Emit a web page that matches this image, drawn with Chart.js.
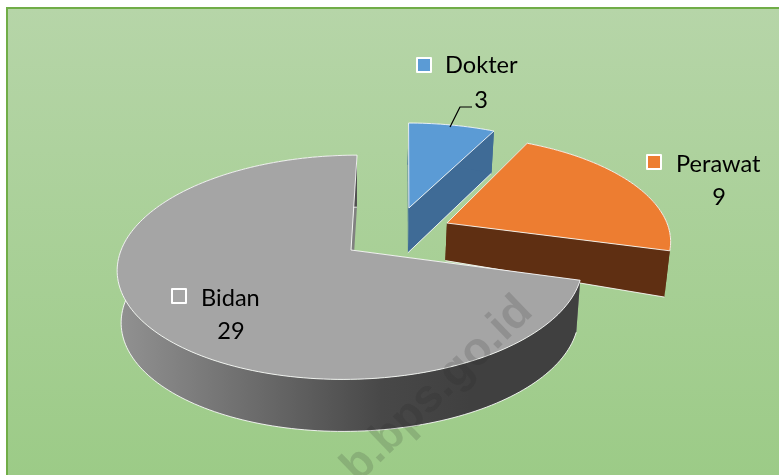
<!DOCTYPE html>
<html>
<head>
<meta charset="utf-8">
<style>
    body { margin: 0; background: #fff; }
    canvas { display: block; }
</style>
<script src="https://cdn.jsdelivr.net/npm/chart.js@4"></script>
</head>
<body>
<canvas id="chart" width="779" height="475"></canvas>
<script>
const categories = ['Dokter', 'Perawat', 'Bidan']
const values = [3, 9, 29]
const colors = ['#5b9bd5', '#ed7d31', '#a5a5a5']
const watermark = 'b.bps.go.id'

// perspective of the tilted disc, in pixels
const view = { cx: 351, cy: 250, a: 231, b: 110, p: 0.155, skew: 7, shrink: 0.983 }
// how far every slice is pulled out (disc units), its size and a small turn in radians
const shifts = [
    { u: 0.254, v: -0.406, r: 1, turn: 0.007 },
    { u: 0.424, v: -0.255, r: 0.99, turn: 0 },
    { u: 0, v: 0, r: 0.995, turn: 0 }
]
const depths = [{ d: 46, k: 3 }, { d: 46, k: 33 }, { d: 52, k: 0 }]
const labelSpots = [
    { key: [417, 58], text: [445, 73], value: [481, 108] },
    { key: [647, 155], text: [676, 172], value: [719, 205] },
    { key: [172, 289], text: [201, 306], value: [231, 339] }
]

function project(u, v) {
    const w = 1 - view.p * v
    return { x: view.cx + (view.a * u - view.skew * v) / w, y: view.cy + view.b * v / w }
}

function rimPoints(arc, shift) {
    const pts = []
    const steps = Math.ceil((arc.endAngle - arc.startAngle) * 40)
    for (let i = 0; i <= steps; i++) {
        const t = arc.startAngle + shift.turn + (arc.endAngle - arc.startAngle) * i / steps
        pts.push({ u: shift.u + shift.r * Math.cos(t), v: shift.v + shift.r * Math.sin(t) })
    }
    return pts
}

function topOf(p) {
    return project(p.u, p.v)
}

function bottomOf(p, depth) {
    const t = project(p.u, p.v)
    return { x: view.cx + (t.x - view.cx) * view.shrink, y: t.y + depth.d + depth.k * p.v }
}

function tracePath(ctx, pts, closed) {
    ctx.beginPath()
    pts.forEach((p, i) => i ? ctx.lineTo(p.x, p.y) : ctx.moveTo(p.x, p.y))
    if (closed) ctx.closePath()
}

function sideFill(ctx, index) {
    if (index === 0) return '#3f6b96'
    if (index === 1) return '#5f2f12'
    const g = ctx.createLinearGradient(117, 0, 470, 0)
    g.addColorStop(0, '#929292')
    g.addColorStop(0.75, '#484848')
    g.addColorStop(1, '#404040')
    return g
}

const pie3d = {
    id: 'pie3d',
    beforeDraw(chart) {
        const ctx = chart.ctx
        const g = ctx.createLinearGradient(0, 8, 0, 475)
        g.addColorStop(0, '#b6d5a8')
        g.addColorStop(1, '#9ccb87')
        ctx.fillStyle = g
        ctx.fillRect(7, 8, 772, 467)
        ctx.strokeStyle = '#70ad47'
        ctx.lineWidth = 2
        ctx.beginPath()
        ctx.moveTo(7, 475)
        ctx.lineTo(7, 8)
        ctx.lineTo(779, 8)
        ctx.stroke()
    },
    // the library has no 3D pie: its arcs are re-projected here
    beforeDatasetsDraw(chart) {
        const ctx = chart.ctx
        const arcs = chart.getDatasetMeta(0).data
        ctx.lineWidth = 1
        ctx.lineJoin = 'round'
        ctx.strokeStyle = 'rgba(255,255,255,0.85)'
        arcs.forEach((arc, i) => {
            const shift = shifts[i]
            const depth = depths[i]
            const rim = rimPoints(arc, shift)
            const apex = { u: shift.u, v: shift.v }
            const fill = sideFill(ctx, i)

            // walls at both cuts
            const first = rim[0]
            const last = rim[rim.length - 1]
            ;[first, last].forEach(p => {
                tracePath(ctx, [topOf(apex), topOf(p), bottomOf(p, depth), bottomOf(apex, depth)], true)
                ctx.fillStyle = i === 2 ? '#808080' : fill
                ctx.fill()
            })

            // outer rim
            const tops = rim.map(topOf)
            const bottoms = rim.map(p => bottomOf(p, depth))
            tracePath(ctx, tops.concat(bottoms.slice().reverse()), true)
            ctx.fillStyle = fill
            ctx.fill()

            // only the lower edges get the thin light line
            if (i === 2) {
                tracePath(ctx, bottoms, false)
                ctx.stroke()
            } else {
                tracePath(ctx, [bottomOf(apex, depth), bottomOf(last, depth)], false)
                ctx.stroke()
            }

            // top face
            tracePath(ctx, [topOf(apex)].concat(tops), true)
            ctx.fillStyle = arc.options.backgroundColor
            ctx.fill()
            ctx.stroke()
        })
        return false
    },
    afterDraw(chart) {
        const ctx = chart.ctx
        ctx.font = '23.6px Lato'
        ctx.textBaseline = 'alphabetic'
        categories.forEach((name, i) => {
            const spot = labelSpots[i]
            ctx.fillStyle = colors[i]
            ctx.strokeStyle = '#fff'
            ctx.lineWidth = 2
            ctx.fillRect(spot.key[0], spot.key[1], 14, 14)
            ctx.strokeRect(spot.key[0], spot.key[1], 14, 14)
            ctx.fillStyle = '#000'
            ctx.textAlign = 'left'
            ctx.fillText(name, spot.text[0], spot.text[1])
            ctx.textAlign = 'center'
            ctx.fillText(values[i], spot.value[0], spot.value[1])
        })

        // leader line of the first label
        ctx.strokeStyle = '#000'
        ctx.lineWidth = 1.2
        ctx.beginPath()
        ctx.moveTo(450, 127)
        ctx.lineTo(460, 107)
        ctx.lineTo(472, 107)
        ctx.stroke()

        ctx.save()
        ctx.translate(358, 484)
        ctx.rotate(-44 * Math.PI / 180)
        ctx.font = 'bold 46px "Liberation Sans"'
        ctx.textAlign = 'left'
        ctx.fillStyle = 'rgba(40,40,40,0.16)'
        ctx.fillText(watermark, 0, 0)
        ctx.restore()
    }
}

new Chart(document.getElementById('chart'), {
    type: 'pie',
    data: {
        labels: categories,
        datasets: [{ data: values, backgroundColor: colors }]
    },
    options: {
        responsive: false,
        animation: false,
        rotation: 0,
        plugins: { legend: { display: false }, tooltip: { enabled: false } }
    },
    plugins: [pie3d]
})
</script>
</body>
</html>
